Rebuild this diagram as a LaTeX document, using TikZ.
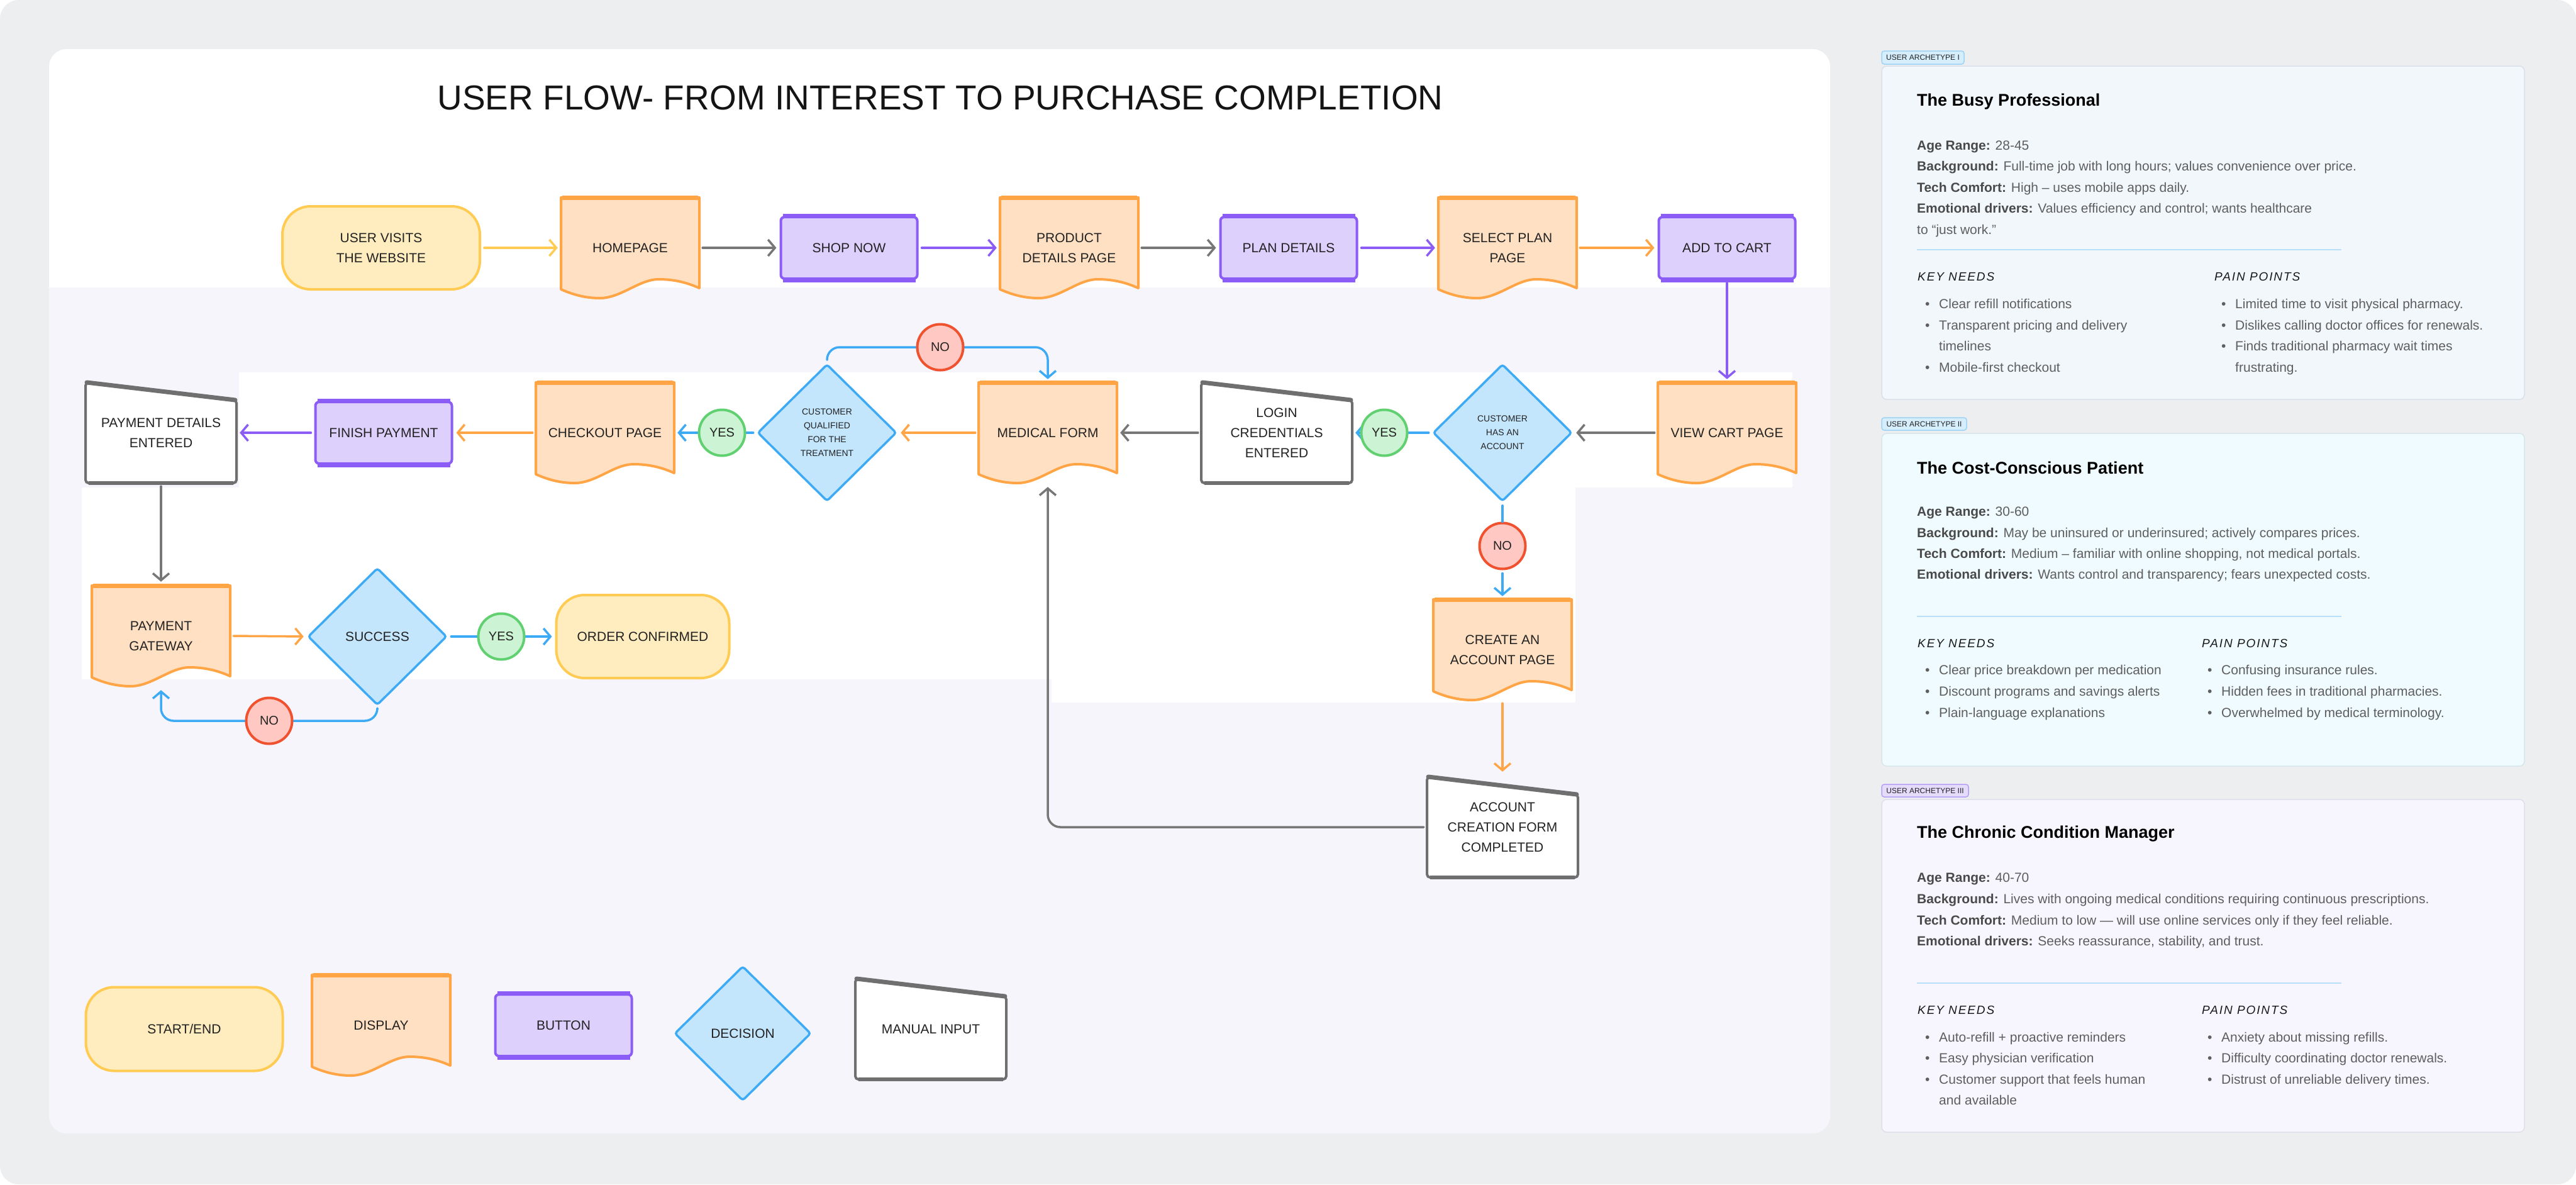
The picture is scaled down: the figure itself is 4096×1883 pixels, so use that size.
\documentclass[tikz,border=0pt]{standalone}
\usepackage{fontspec}
\setmainfont{Liberation Sans}
\newfontfamily\handfont[LetterSpace=10]{Liberation Sans}
\usetikzlibrary{arrows.meta,shapes.geometric,calc}

\definecolor{bgGrey}{HTML}{EDEEF0}
\definecolor{lav}{HTML}{F6F5FC}
\definecolor{orangeD}{HTML}{FFA545}
\definecolor{orangeF}{HTML}{FFE0C2}
\definecolor{yellowD}{HTML}{FFCB52}
\definecolor{yellowF}{HTML}{FFEDBF}
\definecolor{purpD}{HTML}{8B5CF6}
\definecolor{purpF}{HTML}{DDD0FD}
\definecolor{blueD}{HTML}{3DAAF5}
\definecolor{blueF}{HTML}{C4E6FD}
\definecolor{greenD}{HTML}{61D071}
\definecolor{greenF}{HTML}{CCF3D3}
\definecolor{redD}{HTML}{F0512E}
\definecolor{redF}{HTML}{FFC8C2}
\definecolor{greyD}{HTML}{6F6F6F}
\definecolor{lineGrey}{HTML}{777777}
\definecolor{ink}{HTML}{222222}
\definecolor{bodyC}{HTML}{5E5E5E}
\definecolor{bodyB}{HTML}{4A4A4A}
\definecolor{cardA}{HTML}{F2F7FC}
\definecolor{cardAD}{HTML}{D8E1E9}
\definecolor{cardB}{HTML}{EFFBFE}
\definecolor{cardBD}{HTML}{D6E6EA}
\definecolor{cardC}{HTML}{F7F6FE}
\definecolor{cardCD}{HTML}{E0DEEA}
\definecolor{tagBF}{HTML}{D6EEFC}
\definecolor{tagBD}{HTML}{9DD3F5}
\definecolor{tagPF}{HTML}{E5DCFC}
\definecolor{tagPD}{HTML}{B59EF5}
\definecolor{sepC}{HTML}{B8E0F8}

\newcommand\lab[1]{{\color{bodyB}\bfseries #1}}
\newcommand\bul{\makebox[22pt][l]{\textbullet}}

\tikzset{
  lbl/.style={font=\fontsize{21}{32}\selectfont, text=ink, align=center, inner sep=0pt},
  startbox/.style={lbl, rectangle, rounded corners=45pt, draw=yellowD, fill=yellowF, line width=4pt, minimum width=314pt, minimum height=132pt},
  btnbox/.style={lbl, rectangle, rounded corners=6pt, draw=purpD, fill=purpF, line width=4pt, minimum width=217pt, minimum height=98pt},
  decbox/.style={diamond, draw=blueD, fill=blueF, line width=3.5pt, minimum width=221pt, minimum height=218pt, inner sep=0pt, align=center, text=ink, font=\fontsize{14}{22}\selectfont, rounded corners=4pt},
  yesb/.style={circle, draw=greenD, fill=greenF, line width=4pt, minimum size=73pt, inner sep=0pt, font=\fontsize{20}{24}\selectfont, text=ink},
  nob/.style={yesb, draw=redD, fill=redF},
  conn/.style={line width=3.5pt, line cap=round, line join=round, -{Straight Barb[length=11pt,width=26pt]}, rounded corners=20pt, shorten <=5pt, shorten >=5pt},
  plainline/.style={line width=3.5pt, line cap=round, shorten <=5pt, shorten >=0pt},
  bodytxt/.style={font=\fontsize{21}{33}\selectfont, text=bodyC, inner sep=0pt, anchor=west, text height=15pt, text depth=5pt},
  cardtitle/.style={font=\fontsize{27}{32}\selectfont\bfseries, text=black, inner sep=0pt, anchor=west},
  handtxt/.style={font=\fontsize{19}{24}\handfont\itshape, text=black!90, inner sep=0pt, anchor=west},
  tagbox/.style={rectangle, rounded corners=4pt, line width=1.5pt, inner sep=0pt, font=\fontsize{12}{14}\selectfont, text=ink},
  cardbox/.style={rectangle, rounded corners=8pt, line width=1.5pt, inner sep=0pt},
}

% display shape: name, (x,y), text
\newcommand\dispnode[3]{%
  \begin{scope}[shift={#2}]
    \draw[draw=orangeD, fill=orangeF, line width=4pt, line join=round]
      (110,64) -- (110,-80) -- (-110,-80) -- (-110,66)
      .. controls (-92,74) and (-72,80) .. (-48,80)
      .. controls (-15,80) and (15,50) .. (45,50)
      .. controls (72,50) and (92,56) .. (110,64) -- cycle;
    \draw[orangeD, line width=7pt] (-108,-80) -- (108,-80);
  \end{scope}
  \node[lbl, minimum width=220pt, minimum height=160pt] (#1) at #2 {#3};
}
% manual input: name, (x,y), text
\newcommand\manualnode[3]{%
  \begin{scope}[shift={#2}]
    \draw[draw=greyD, fill=white, line width=4pt, rounded corners=5pt]
      (-120,-80) -- (120,-52) -- (120,80) -- (-120,80) -- cycle;
    \draw[greyD, line width=7pt, line cap=round] (-118,-80) -- (118,-52);
    \draw[greyD, line width=6pt] (-115,80) -- (115,80);
  \end{scope}
  \node[lbl, minimum width=240pt, minimum height=160pt] (#1) at #2 {#3};
}
% button: name, (x,y), text
\newcommand\btnnode[3]{%
  \node[btnbox] (#1) at #2 {#3};
  \draw[purpD, line width=7pt] ([xshift=5pt]#1.north west) -- ([xshift=-5pt]#1.north east);
  \draw[purpD, line width=7pt] ([xshift=5pt]#1.south west) -- ([xshift=-5pt]#1.south east);
}

\begin{document}
\begin{tikzpicture}[x=1pt,y=-1pt]
\useasboundingbox (0,0) rectangle (4096,1883);
\fill[white] (0,0) rectangle (4096,1883);
\fill[bgGrey, rounded corners=30pt] (0,0) rectangle (4096,1883);

% main panel
\fill[lav, rounded corners=28pt] (78,78) rectangle (2910,1802);
\begin{scope}
  \clip[rounded corners=28pt] (78,78) rectangle (2910,1802);
  \fill[white] (78,78) rectangle (2910,457);
  \fill[white] (380,592) rectangle (2850,775);
  \fill[white] (130,775) rectangle (1672,1080);
  \fill[white] (1672,775) rectangle (2505,1117);
\end{scope}

\node[font=\fontsize{55}{60}\selectfont, text=black!92, inner sep=0pt] (title) at (1495,156) {USER FLOW- FROM INTEREST TO PURCHASE COMPLETION};

% ---------- row 1 ----------
\node[startbox] (start) at (606,394) {USER VISITS\\THE WEBSITE};
\dispnode{home}{(1002,394)}{HOMEPAGE}
\btnnode{shop}{(1350,394)}{SHOP NOW}
\dispnode{prod}{(1700,394)}{PRODUCT\\DETAILS PAGE}
\btnnode{plan}{(2049,394)}{PLAN DETAILS}
\dispnode{sel}{(2397,394)}{SELECT PLAN\\PAGE}
\btnnode{cart}{(2746,394)}{ADD TO CART}

% ---------- row 2 ----------
\manualnode{pd}{(256,688)}{PAYMENT DETAILS\\ENTERED}
\btnnode{fin}{(610,688)}{FINISH PAYMENT}
\dispnode{chk}{(962,688)}{CHECKOUT PAGE}
\node[decbox] (qual) at (1315,688) {CUSTOMER\\QUALIFIED\\FOR THE\\TREATMENT};
\dispnode{med}{(1666,688)}{MEDICAL FORM}
\manualnode{login}{(2030,688)}{LOGIN\\CREDENTIALS\\ENTERED}
\node[decbox] (has) at (2389,688) {CUSTOMER\\HAS AN\\ACCOUNT};
\dispnode{view}{(2746,688)}{VIEW CART PAGE}

% ---------- row 3 ----------
\dispnode{gate}{(256,1011)}{PAYMENT\\GATEWAY}
\node[decbox, font=\fontsize{21}{32}\selectfont] (succ) at (600,1012) {SUCCESS};
\node[startbox, minimum width=275pt] (ord) at (1022,1012) {ORDER CONFIRMED};
\dispnode{ca}{(2389,1033)}{CREATE AN\\ACCOUNT PAGE}
\manualnode{acf}{(2389,1315)}{ACCOUNT\\CREATION FORM\\COMPLETED}

% ---------- connectors ----------
\draw[conn, yellowD] (start.east) -- (home.west);
\draw[conn, lineGrey] (home.east) -- (shop.west);
\draw[conn, purpD] (shop.east) -- (prod.west);
\draw[conn, lineGrey] (prod.east) -- (plan.west);
\draw[conn, purpD] (plan.east) -- (sel.west);
\draw[conn, orangeD] (sel.east) -- (cart.west);
\draw[conn, purpD] (cart.south) -- (view.north);
\draw[conn, lineGrey] (view.west) -- (has.east);
\draw[conn, blueD] (has.west) -- (login.east);
\draw[conn, lineGrey] (login.west) -- (med.east);
\draw[conn, orangeD] (med.west) -- (qual.east);
\draw[conn, blueD] (qual.west) -- (chk.east);
\draw[conn, orangeD] (chk.west) -- (fin.east);
\draw[conn, purpD] (fin.west) -- (pd.east);
\draw[conn, lineGrey, shorten >=6pt] (pd.south) -- (gate.north);
\draw[conn, orangeD] (gate.east) -- (succ.west);
\draw[conn, blueD] (succ.east) -- (ord.west);

\coordinate (noA) at (1495,552);
\coordinate (noB) at (428,1146);
\draw[conn, blueD] (qual.north) |- (noA) -| (med.north);
\draw[conn, blueD, shorten >=6pt] (succ.south) |- (noB) -| (gate.south);

\node[nob] (no1) at (noA) {NO};
\node[nob] (no3) at (noB) {NO};
\node[nob] (no2) at (2389,868) {NO};
\draw[plainline, blueD] (has.south) -- (no2.north);
\draw[conn, blueD] (no2.south) -- (ca.north);
\draw[conn, orangeD, shorten >=8pt] (ca.south) -- (acf.north);
\draw[conn, lineGrey, shorten >=6pt] (acf.west) -| (med.south);

\node[yesb] (yes1) at (1148,688) {YES};
\node[yesb] (yes2) at (2201,688) {YES};
\node[yesb] (yes3) at (797,1012) {YES};

% ---------- legend ----------
\node[startbox, minimum width=313pt, minimum height=133pt] (lgS) at (293,1636) {START/END};
\dispnode{lgD}{(606,1630)}{DISPLAY}
\btnnode{lgB}{(896,1630)}{BUTTON}
\node[decbox, minimum width=217pt, minimum height=214pt, font=\fontsize{21}{32}\selectfont] (lgC) at (1181,1643) {DECISION};
\manualnode{lgM}{(1480,1636)}{MANUAL INPUT}

% ---------- archetype cards ----------
\node[tagbox, fill=tagBF, draw=tagBD, minimum width=131pt, minimum height=21pt] (tag1) at (3057.5,91.5) {USER ARCHETYPE I};
\node[cardbox, fill=cardA, draw=cardAD, minimum width=1022pt, minimum height=530pt] (card1) at (3503,370) {};
\node[cardtitle] (c1t) at (3048,162) {The Busy Professional};
\node[bodytxt] (c1a) at (3048,233) {\lab{Age Range:} 28-45};
\node[bodytxt] (c1b) at (3048,266) {\lab{Background:} Full-time job with long hours; values convenience over price.};
\node[bodytxt] (c1c) at (3048,300) {\lab{Tech Comfort:} High – uses mobile apps daily.};
\node[bodytxt] (c1d) at (3048,333) {\lab{Emotional drivers:} Values efficiency and control; wants healthcare};
\node[bodytxt] (c1e) at (3048,367) {to “just work.”};
\draw[sepC, line width=2pt] (3048,397) -- (3723,397);
\node[handtxt] (c1kn) at (3049,440) {KEY NEEDS};
\node[handtxt] (c1pp) at (3521,440) {PAIN POINTS};
\node[bodytxt] (c1k1) at (3061,485) {\bul Clear refill notifications};
\node[bodytxt] (c1k2) at (3061,519) {\bul Transparent pricing and delivery};
\node[bodytxt] (c1k2b) at (3083,552) {timelines};
\node[bodytxt] (c1k3) at (3061,586) {\bul Mobile-first checkout};
\node[bodytxt] (c1p1) at (3532,485) {\bul Limited time to visit physical pharmacy.};
\node[bodytxt] (c1p2) at (3532,519) {\bul Dislikes calling doctor offices for renewals.};
\node[bodytxt] (c1p3) at (3532,552) {\bul Finds traditional pharmacy wait times};
\node[bodytxt] (c1p3b) at (3554,586) {frustrating.};

\node[tagbox, fill=tagBF, draw=tagBD, minimum width=135pt, minimum height=20pt] (tag2) at (3059.5,674) {USER ARCHETYPE II};
\node[cardbox, fill=cardB, draw=cardBD, minimum width=1022pt, minimum height=529pt] (card2) at (3503,953.5) {};
\node[cardtitle] (c2t) at (3048,744) {The Cost-Conscious Patient};
\node[bodytxt] (c2a) at (3048,815) {\lab{Age Range:} 30-60};
\node[bodytxt] (c2b) at (3048,849) {\lab{Background:} May be uninsured or underinsured; actively compares prices.};
\node[bodytxt] (c2c) at (3048,882) {\lab{Tech Comfort:} Medium – familiar with online shopping, not medical portals.};
\node[bodytxt] (c2d) at (3048,915) {\lab{Emotional drivers:} Wants control and transparency; fears unexpected costs.};
\draw[sepC, line width=2pt] (3048,980) -- (3723,980);
\node[handtxt] (c2kn) at (3049,1023) {KEY NEEDS};
\node[handtxt] (c2pp) at (3501,1023) {PAIN POINTS};
\node[bodytxt] (c2k1) at (3061,1067) {\bul Clear price breakdown per medication};
\node[bodytxt] (c2k2) at (3061,1101) {\bul Discount programs and savings alerts};
\node[bodytxt] (c2k3) at (3061,1135) {\bul Plain-language explanations};
\node[bodytxt] (c2p1) at (3510,1067) {\bul Confusing insurance rules.};
\node[bodytxt] (c2p2) at (3510,1101) {\bul Hidden fees in traditional pharmacies.};
\node[bodytxt] (c2p3) at (3510,1135) {\bul Overwhelmed by medical terminology.};

\node[tagbox, fill=tagPF, draw=tagPD, minimum width=138pt, minimum height=20pt] (tag3) at (3061,1257) {USER ARCHETYPE III};
\node[cardbox, fill=cardC, draw=cardCD, minimum width=1022pt, minimum height=529pt] (card3) at (3503,1535.5) {};
\node[cardtitle] (c3t) at (3048,1326) {The Chronic Condition Manager};
\node[bodytxt] (c3a) at (3048,1397) {\lab{Age Range:} 40-70};
\node[bodytxt] (c3b) at (3048,1431) {\lab{Background:} Lives with ongoing medical conditions requiring continuous prescriptions.};
\node[bodytxt] (c3c) at (3048,1465) {\lab{Tech Comfort:} Medium to low — will use online services only if they feel reliable.};
\node[bodytxt] (c3d) at (3048,1498) {\lab{Emotional drivers:} Seeks reassurance, stability, and trust.};
\draw[sepC, line width=2pt] (3048,1563) -- (3723,1563);
\node[handtxt] (c3kn) at (3049,1606) {KEY NEEDS};
\node[handtxt] (c3pp) at (3501,1606) {PAIN POINTS};
\node[bodytxt] (c3k1) at (3061,1651) {\bul Auto-refill + proactive reminders};
\node[bodytxt] (c3k2) at (3061,1684) {\bul Easy physician verification};
\node[bodytxt] (c3k3) at (3061,1718) {\bul Customer support that feels human};
\node[bodytxt] (c3k3b) at (3083,1751) {and available};
\node[bodytxt] (c3p1) at (3510,1651) {\bul Anxiety about missing refills.};
\node[bodytxt] (c3p2) at (3510,1684) {\bul Difficulty coordinating doctor renewals.};
\node[bodytxt] (c3p3) at (3510,1718) {\bul Distrust of unreliable delivery times.};
\end{tikzpicture}
\end{document}
